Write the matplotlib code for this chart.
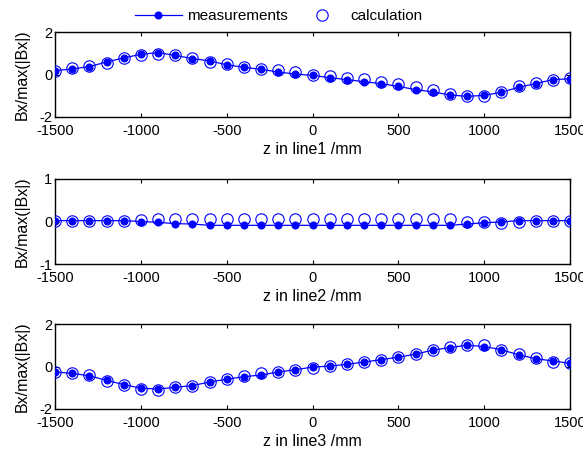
import numpy as np
import matplotlib
matplotlib.use("Agg")
import matplotlib.pyplot as plt
from matplotlib.lines import Line2D

plt.rcParams['font.family'] = ['Liberation Sans', 'DejaVu Sans']
plt.rcParams['axes.unicode_minus'] = False

z = list(range(-1500, 1501, 100))

meas1 = [0.18, 0.26, 0.37, 0.59, 0.78, 0.95, 1.03, 0.90, 0.75, 0.64, 0.46, 0.34, 0.24, 0.12, 0.02, -0.04,
         -0.15, -0.24, -0.34, -0.43, -0.56, -0.71, -0.82, -0.96, -1.03, -0.98, -0.84, -0.60, -0.43, -0.24, -0.20]
calc1 = [0.18, 0.29, 0.42, 0.54, 0.76, 0.92, 0.98, 0.92, 0.78, 0.59, 0.48, 0.37, 0.27, 0.21, 0.12, -0.01,
         -0.05, -0.16, -0.21, -0.34, -0.45, -0.60, -0.75, -0.92, -1.03, -1.03, -0.82, -0.56, -0.40, -0.27, -0.18]

meas2 = [0.02, 0.02, 0.02, 0.02, 0.02, 0.0, -0.02, -0.05, -0.06, -0.09, -0.09, -0.09, -0.09, -0.09, -0.09, -0.09,
         -0.09, -0.09, -0.09, -0.09, -0.09, -0.09, -0.09, -0.09, -0.06, -0.03, -0.01, 0.02, 0.02, 0.02, 0.02]
calc2 = [0.02, 0.02, 0.02, 0.02, 0.02, 0.04, 0.05, 0.05, 0.05, 0.05, 0.05, 0.05, 0.05, 0.05, 0.05, 0.05,
         0.05, 0.05, 0.05, 0.05, 0.05, 0.05, 0.05, 0.05, 0.0, -0.02, -0.03, -0.02, 0.02, 0.02, 0.02]

meas3 = [-0.26, -0.32, -0.44, -0.65, -0.85, -1.02, -1.06, -0.98, -0.90, -0.73, -0.60, -0.48, -0.40, -0.26, -0.15, -0.03,
         0.02, 0.10, 0.21, 0.32, 0.44, 0.58, 0.77, 0.89, 1.00, 0.94, 0.79, 0.55, 0.37, 0.26, 0.15]
calc3 = [-0.26, -0.32, -0.40, -0.68, -0.89, -1.06, -1.10, -0.98, -0.90, -0.71, -0.58, -0.44, -0.31, -0.24, -0.15, -0.06,
         0.02, 0.10, 0.21, 0.32, 0.44, 0.58, 0.76, 0.90, 1.03, 1.03, 0.80, 0.60, 0.42, 0.23, 0.15]

xticks = [-1500, -1000, -500, 0, 500, 1000, 1500]
xlabels = ["z in line1 /mm", "z in line2 /mm", "z in line3 /mm"]
ylims = [(-2, 2), (-1, 1), (-2, 2)]
yticks = [[-2, 0, 2], [-1, 0, 1], [-2, 0, 2]]
ylabel = "Bx/max(|Bx|)"

W, H = 583, 454
fig = plt.figure(figsize=(W / 100, H / 100), dpi=100)

tops = [32, 179, 324]
ax_h = 85
left, right = 55, 570

blue = (0, 0, 1)
series = [(meas1, calc1), (meas2, calc2), (meas3, calc3)]
for i, (m, c) in enumerate(series):
    ax = fig.add_axes([left / W, 1 - (tops[i] + ax_h) / H, (right - left) / W, ax_h / H])
    ax.plot(z, m, '-', color=blue, lw=0.9, marker='o', ms=4.8, mfc=blue, mec=blue, zorder=3)
    ax.plot(z, c, 'o', ls='none', ms=8.2, mfc='none', mec=blue, mew=0.8, zorder=4)
    ax.set_xlim(-1500, 1500)
    ax.set_ylim(*ylims[i])
    ax.set_xticks(xticks)
    ax.set_xticklabels([str(t) for t in xticks])
    ax.set_yticks(yticks[i])
    ax.set_yticklabels([str(t) for t in yticks[i]])
    ax.tick_params(direction='in', top=True, right=True, length=3, width=0.8,
                   labelsize=10.5, colors='black')
    ax.tick_params(axis='x', pad=5)
    ax.tick_params(axis='y', pad=2)
    for s in ax.spines.values():
        s.set_linewidth(1.0)
        s.set_color('black')
    ax.set_xlabel(xlabels[i], fontsize=11.5, labelpad=3)
    ax.set_ylabel(ylabel, fontsize=11.5, labelpad=7)

h1 = Line2D([], [], color=blue, lw=0.9, marker='o', ms=4.8, mfc=blue, mec=blue)
h2 = Line2D([], [], color=blue, ls='none', marker='o', ms=8.2, mfc='none', mec=blue, mew=0.8)
fig.legend([h1, h2], ["measurements", "calculation"], loc='center', bbox_to_anchor=(0.478, 1 - 16 / H),
           ncol=2, frameon=False, fontsize=11, handlelength=3.1, columnspacing=0.65,
           handletextpad=0.35, borderpad=0.1)

fig.savefig("out.png", dpi=100)
